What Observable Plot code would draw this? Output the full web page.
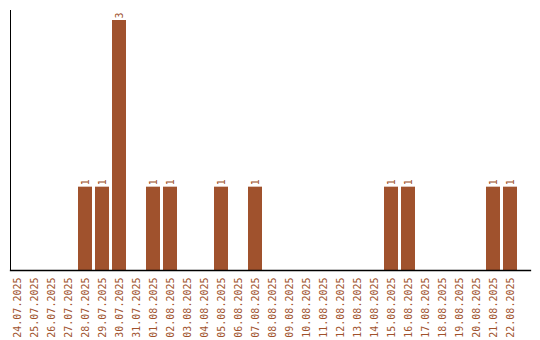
<!DOCTYPE html>
<html><head><meta charset="utf-8">
<script src="https://cdn.jsdelivr.net/npm/d3@7"></script>
<script src="https://cdn.jsdelivr.net/npm/@observablehq/plot@0.6"></script>
<style>body{margin:0;background:#fff}</style>
</head><body><div id="chart"></div>
<script>
const dates = ["24.07.2025","25.07.2025","26.07.2025","27.07.2025","28.07.2025","29.07.2025","30.07.2025","31.07.2025","01.08.2025","02.08.2025","03.08.2025","04.08.2025","05.08.2025","06.08.2025","07.08.2025","08.08.2025","09.08.2025","10.08.2025","11.08.2025","12.08.2025","13.08.2025","14.08.2025","15.08.2025","16.08.2025","17.08.2025","18.08.2025","19.08.2025","20.08.2025","21.08.2025","22.08.2025"];
const counts = [0,0,0,0,1,1,3,0,1,1,0,0,1,0,1,0,0,0,0,0,0,0,1,1,0,0,0,0,1,1];
const data = dates.map((d,i)=>({date:d, count:counts[i]}));
const nonzero = data.filter(d=>d.count>0);
const color = "#a0522d";
const chart = Plot.plot({
  width: 540, height: 340,
  marginTop: 10, marginBottom: 70, marginLeft: 10, marginRight: 10,
  style: {fontFamily: "'DejaVu Sans Mono', monospace", fontSize: "10px", background: "#fff"},
  x: {domain: dates, range: [10, 517], paddingInner: 3/17, paddingOuter: 0, label: null},
  y: {domain: [0, 3.12], axis: null},
  marks: [
    Plot.barY(nonzero, {x: "date", y: "count", fill: color}),
    Plot.text(nonzero, {x: "date", y: "count", text: d => String(d.count), rotate: -90, textAnchor: "start", lineAnchor: "middle", dy: -2, fill: color, fontSize: 10}),
    Plot.axisX({tickSize: 0, tickPadding: 7, tickRotate: -90, fill: color, label: null, fontSize: 10}),
    Plot.frame({anchor: "left", stroke: "#000", strokeWidth: 1}),
    Plot.frame({anchor: "bottom", stroke: "#000", strokeWidth: 1.3})
  ]
});
document.getElementById("chart").appendChild(chart);
</script></body></html>
